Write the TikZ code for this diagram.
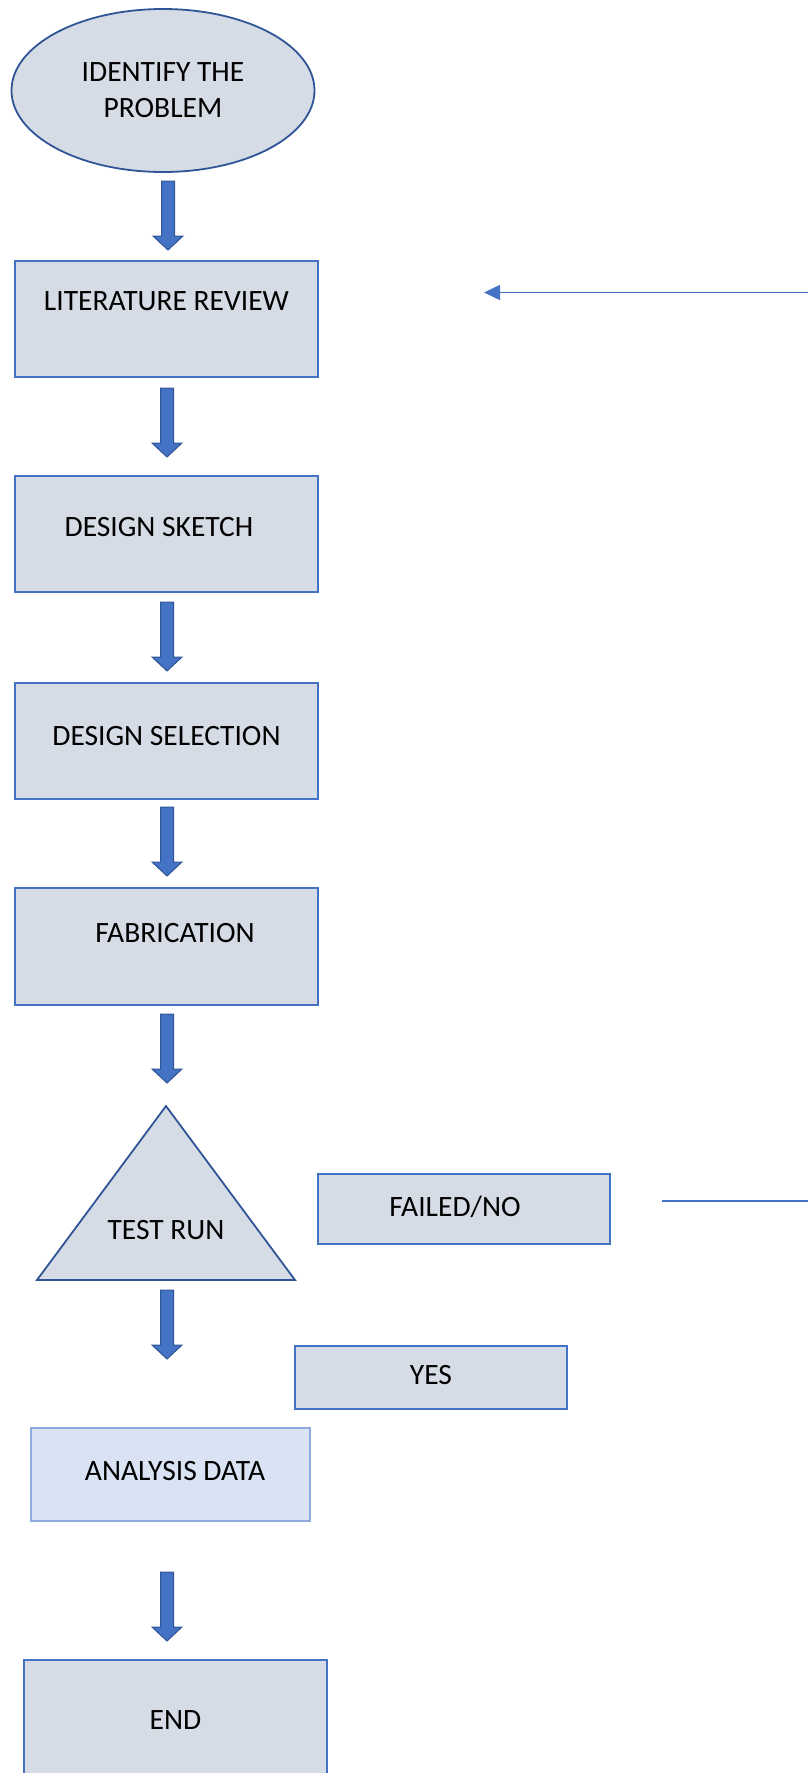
\documentclass[tikz,border=0pt]{standalone}
\usepackage{fontspec}
\setmainfont{Carlito}
\usetikzlibrary{calc,arrows.meta,shapes.geometric}
\definecolor{boxfill}{HTML}{D6DCE5}
\definecolor{boxline}{HTML}{4472C4}
\definecolor{darkline}{HTML}{2F5597}
\definecolor{lightfill}{HTML}{DAE3F3}
\definecolor{lightline}{HTML}{8FAADC}
\newcommand\blockarrow[2]{%
  \filldraw[barrow] let \p1=(#1), \p2=(#2) in
    (\x1-6.5pt,\y1) -- (\x1+6.5pt,\y1) -- (\x1+6.5pt,\y2+14pt) -- (\x1+15pt,\y2+14pt)
    -- (\x1,\y2) -- (\x1-15pt,\y2+14pt) -- (\x1-6.5pt,\y2+14pt) -- cycle;}
\tikzset{
  box/.style={rectangle, draw=boxline, fill=boxfill, line width=1.8pt, inner sep=0pt,
    font=\fontsize{29.5}{35}\selectfont, text=black},
  lightbox/.style={box, draw=lightline, fill=lightfill, line width=1.3pt},
  barrow/.style={fill=boxline, draw=darkline, line width=1pt, line join=miter},
  thinline/.style={draw=boxline, line width=1.5pt},
  txt/.style={font=\fontsize{29.5}{36}\selectfont, text=black, align=center, inner sep=0pt}
}
\begin{document}
\begin{tikzpicture}[x=1pt,y=-1pt]
\useasboundingbox (0,0) rectangle (808,1773);
% start ellipse
\node[ellipse, draw=darkline, fill=boxfill, line width=1.8pt, minimum width=303pt,
  minimum height=163pt, inner sep=0pt] (idp) at (163,90.5) {};
\node[txt] (idptxt) at (163,90) {IDENTIFY THE\\PROBLEM};
% boxes
\node[box, minimum width=303pt, text height=49.5pt, text depth=66.5pt] (lit) at (166.5,319) {LITERATURE REVIEW};
\node[box, minimum width=303pt, text height=60.5pt, text depth=55.5pt] (sketch) at (166.5,534) {DESIGN SKETCH\hspace*{15pt}};
\node[box, minimum width=303pt, text height=62.5pt, text depth=53.5pt] (select) at (166.5,741) {DESIGN SELECTION};
\node[box, minimum width=303pt, text height=54.5pt, text depth=62.5pt] (fab) at (166.5,946.5) {\hspace*{17pt}FABRICATION};
% triangle
\coordinate (tA) at (166,1106);
\coordinate (tL) at (37,1280);
\coordinate (tR) at (295,1280);
\filldraw[fill=boxfill, draw=darkline, line width=1.8pt, line join=miter] (tA) -- (tR) -- (tL) -- cycle;
\node[txt] (test) at (166,1230) {TEST RUN};
\node[box, minimum width=292pt, text height=42.5pt, text depth=27.5pt] (failed) at (464,1209) {FAILED/NO\hspace*{18pt}};
\node[box, minimum width=272pt, text height=38.5pt, text depth=24.5pt] (yes) at (431,1377.5) {YES};
\node[lightbox, minimum width=279pt, text height=52.5pt, text depth=40.5pt] (analysis) at (170.5,1474.5) {\hspace*{9pt}ANALYSIS DATA};
\node[box, minimum width=303pt, text height=69.5pt, text depth=60.5pt] (endn) at (175.5,1725) {END};
% block arrows
\coordinate (a1s) at (168,181);  \coordinate (a1e) at (168,250);
\coordinate (a2s) at (167,388);  \coordinate (a2e) at (167,457);
\coordinate (a3s) at (167,602);  \coordinate (a3e) at (167,671);
\coordinate (a4s) at (167,807);  \coordinate (a4e) at (167,876);
\coordinate (a5s) at (167,1014); \coordinate (a5e) at (167,1083);
\coordinate (a6s) at (167,1290); \coordinate (a6e) at (167,1359);
\coordinate (a7s) at (167,1572); \coordinate (a7e) at (167,1641);
\blockarrow{a1s}{a1e}
\blockarrow{a2s}{a2e}
\blockarrow{a3s}{a3e}
\blockarrow{a4s}{a4e}
\blockarrow{a5s}{a5e}
\blockarrow{a6s}{a6e}
\blockarrow{a7s}{a7e}
% thin lines
\coordinate (loopA) at (808,292.5);
\coordinate (loopB) at (484,292.5);
\draw[thinline, -{Triangle[width=15pt,length=16pt]}] (loopA) -- (loopB);
\coordinate (noA) at (662,1201);
\coordinate (noB) at (808,1201);
\draw[thinline] (noA) -- (noB);
\end{tikzpicture}
\end{document}
